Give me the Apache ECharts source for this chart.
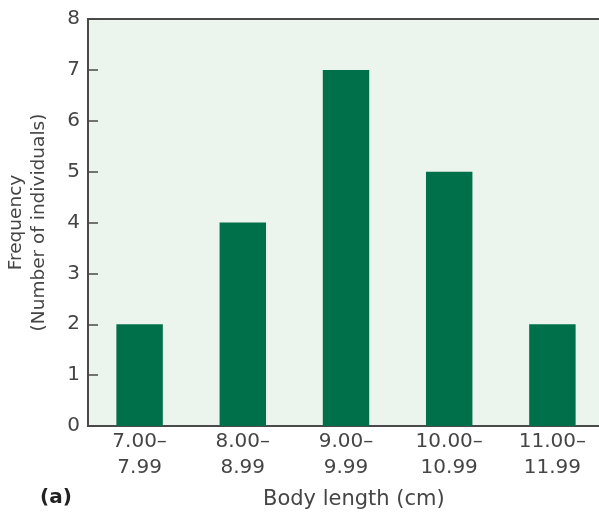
<!DOCTYPE html>
<html>
<head>
<meta charset="utf-8">
<script src="https://cdn.jsdelivr.net/npm/echarts@6/dist/echarts.min.js"></script>
<style>
html,body{margin:0;padding:0;background:#fff;}
#c{width:599px;height:513px;}
</style>
</head>
<body>
<div id="c"></div>
<script>
var categories = ['7.00–\n7.99', '8.00–\n8.99', '9.00–\n9.99', '10.00–\n10.99', '11.00–\n11.99'];
var frequency = [2, 4, 7, 5, 2];
var yTicks = [0, 1, 2, 3, 4, 5, 6, 7, 8];

var FONT = 'DejaVu Sans';
var TXT = '#454545';
var AX = '#4a4a4a';

var chart = echarts.init(document.getElementById('c'), null, {renderer: 'canvas'});
chart.setOption({
  animation: false,
  grid: {
    left: 88, right: -5, top: 19, bottom: 87,
    containLabel: false,
    outerBoundsMode: 'none',
    show: true, backgroundColor: '#ebf5ee', borderColor: AX, borderWidth: 2
  },
  xAxis: {
    type: 'category',
    data: categories,
    boundaryGap: true,
    axisLine: {lineStyle: {color: AX, width: 2}},
    axisTick: {inside: true, length: 8, alignWithLabel: false, lineStyle: {color: AX, width: 1.5}},
    axisLabel: {margin: 3, fontFamily: FONT, fontSize: 20, lineHeight: 26, color: TXT, interval: 0}
  },
  yAxis: {
    type: 'value',
    min: yTicks[0], max: yTicks[yTicks.length - 1], interval: 1,
    name: 'Frequency\n(Number of individuals)',
    nameLocation: 'middle',
    nameRotate: 90,
    nameGap: 37,
    nameTextStyle: {fontFamily: FONT, fontSize: 18.5, lineHeight: 23, color: TXT},
    axisLine: {show: true, lineStyle: {color: AX, width: 2}},
    axisTick: {show: true, inside: true, length: 10, lineStyle: {color: AX, width: 1.5}},
    splitLine: {show: false},
    axisLabel: {margin: 8, fontFamily: FONT, fontSize: 20, color: TXT}
  },
  series: [{
    type: 'bar',
    data: frequency,
    barWidth: '45%',
    itemStyle: {color: '#00704a'}
  }],
  graphic: [
    {type: 'text', left: 263, top: 489, style: {text: 'Body length (cm)', font: '21px "DejaVu Sans"', fill: TXT}},
    {type: 'text', left: 40, top: 488, style: {text: '(a)', font: 'bold 20px "DejaVu Sans"', fill: '#222'}}
  ]
});
</script>
</body>
</html>
